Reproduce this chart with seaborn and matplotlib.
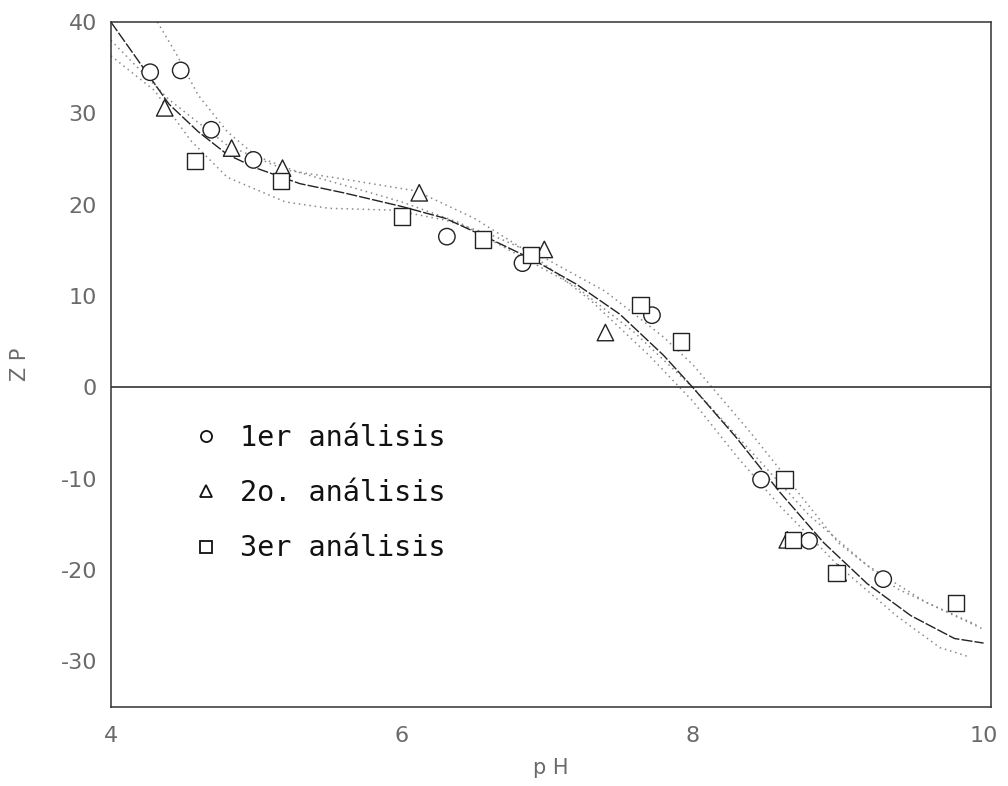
import numpy as np
import pandas as pd
import matplotlib
matplotlib.use("Agg")
import matplotlib.pyplot as plt
import seaborn as sns
from matplotlib.lines import Line2D

# ---- data ----
ph_1er = [4.27, 4.48, 4.69, 4.98, 6.31, 6.83, 7.72, 8.47, 8.80, 9.31]
zp_1er = [34.5, 34.7, 28.2, 24.9, 16.5, 13.6, 7.9, -10.1, -16.8, -21.0]

ph_2o = [4.37, 4.83, 5.18, 6.12, 6.98, 7.40, 8.65, 9.00]
zp_2o = [30.6, 26.2, 24.0, 21.3, 15.1, 6.0, -16.7, -20.3]

ph_3er = [4.58, 5.17, 6.00, 6.56, 6.89, 7.64, 7.92, 8.63, 8.69, 8.99, 9.81]
zp_3er = [24.8, 22.6, 18.7, 16.2, 14.5, 9.0, 5.0, -10.1, -16.7, -20.3, -23.6]

series_names = ["1er análisis", "2o. análisis", "3er análisis"]

# main fitted curve
fit_ph = [4.0, 4.2, 4.4, 4.6, 4.8, 5.0, 5.3, 5.6, 6.0, 6.3, 6.6, 6.9, 7.2, 7.5,
          7.8, 8.0, 8.3, 8.6, 8.9, 9.2, 9.5, 9.8, 10.0]
fit_zp = [40, 35.5, 31, 28, 25.5, 24, 22.3, 21.3, 19.8, 18.5, 16.3, 14, 11.3, 8,
          3.5, 0, -5.5, -11.5, -17, -21.5, -25, -27.5, -28]

# dotted curves
d1_ph = [4.32, 4.45, 4.6, 4.8, 5.0, 5.3, 5.7, 6.0, 6.4, 6.8, 7.2, 7.6, 8.0, 8.4,
         8.8, 9.2, 9.6, 9.95]
d1_zp = [40, 36.5, 32, 28, 25.3, 23.5, 21.7, 20.3, 18, 14.5, 11, 6, 0, -7,
         -14, -19.5, -23.5, -26]
d2_ph = [4.0, 4.3, 4.55, 4.8, 5.2, 5.5, 5.95, 6.3, 6.6, 7.0, 7.4, 7.8, 8.0, 8.4,
         8.7, 9.0, 9.4, 9.8, 10.0]
d2_zp = [36.3, 32.5, 27, 23, 20.3, 19.6, 19.4, 18.3, 16.8, 14, 10.5, 5.5, 2.5, -5,
         -11, -17, -22, -25, -26.5]
d3_ph = [4.0, 4.4, 4.8, 5.2, 5.6, 6.1, 6.5, 6.9, 7.3, 7.7, 8.0, 8.3, 8.6, 9.0,
         9.4, 9.7, 9.9]
d3_zp = [38, 31.5, 26.5, 23.8, 22.8, 21.5, 18.5, 14.5, 9.5, 3.5, -1.5, -7.5, -13,
         -19.5, -25, -28.5, -29.5]

x_ticks = [4, 6, 8, 10]
y_ticks = [40, 30, 20, 10, 0, -10, -20, -30]

# ---- build data frames ----
pts = pd.concat([
    pd.DataFrame({"pH": ph_1er, "ZP": zp_1er, "serie": series_names[0]}),
    pd.DataFrame({"pH": ph_2o, "ZP": zp_2o, "serie": series_names[1]}),
    pd.DataFrame({"pH": ph_3er, "ZP": zp_3er, "serie": series_names[2]}),
], ignore_index=True)

sns.set_theme(style="white")
plt.rcParams["font.family"] = ["DejaVu Sans"]

fig = plt.figure(figsize=(10.08, 7.86), dpi=100)
ax = fig.add_axes([0.110, 0.1005, 0.873, 0.8715])

# dotted curves
for xs, ys in [(d1_ph, d1_zp), (d2_ph, d2_zp), (d3_ph, d3_zp)]:
    sns.lineplot(x=xs, y=ys, ax=ax, color="#8a8a8a", linewidth=1.1,
                 linestyle=(0, (1, 2.5)), sort=False, estimator=None)
# main curve
sns.lineplot(x=fit_ph, y=fit_zp, ax=ax, color="#222222", linewidth=1.0,
             linestyle=(0, (8, 1.5)), sort=False, estimator=None)

# zero line
ax.axhline(0, color="#222222", linewidth=1.1)

# points
markers = {series_names[0]: "o", series_names[1]: "^", series_names[2]: "s"}
sns.scatterplot(data=pts, x="pH", y="ZP", style="serie", markers=markers,
                s=140, facecolor="white", edgecolor="#222222", linewidth=1.0,
                color="white", ax=ax, legend=False, zorder=5)

ax.set_xlim(4, 10.05)
ax.set_ylim(-35, 40)
ax.set_xticks(x_ticks)
ax.set_yticks(y_ticks)
ax.set_xticklabels([str(v) for v in x_ticks])
ax.set_yticklabels([str(v) for v in y_ticks])
ax.tick_params(axis="both", direction="in", length=9, width=1.0,
               colors="#333333", labelcolor="#6a6a6a", labelsize=16)
ax.tick_params(axis="x", pad=14)
ax.tick_params(axis="y", pad=10)
for sp in ax.spines.values():
    sp.set_color("#333333")
    sp.set_linewidth(1.1)
    sp.set_visible(True)

ax.set_xlabel("p H", fontsize=15, color="#6a6a6a", labelpad=8)
ax.set_ylabel("Z P", fontsize=15, color="#6a6a6a", labelpad=22)

# legend
handles = [Line2D([], [], linestyle="none", marker=m, markersize=8,
                  markerfacecolor="white", markeredgecolor="#111111",
                  markeredgewidth=1.3) for m in ["o", "^", "s"]]
leg = ax.legend(handles, series_names, loc="upper left",
                bbox_to_anchor=(0.063, 0.450), frameon=False,
                prop={"family": "DejaVu Sans Mono", "size": 20.5},
                labelspacing=0.95, handletextpad=0.7, handlelength=1.0)
for t in leg.get_texts():
    t.set_color("#111111")

fig.savefig("out.png", dpi=100)
